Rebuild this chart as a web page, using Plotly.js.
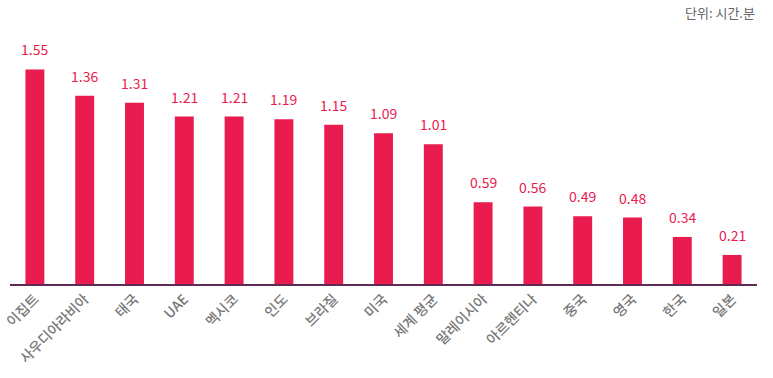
<!DOCTYPE html>
<html>
<head>
<meta charset="utf-8">
<script src="https://cdn.plot.ly/plotly-3.0.1.min.js"></script>
<style>html,body{margin:0;padding:0;background:#fff;}#chart{width:773px;height:378px;}</style>
</head>
<body>
<div id="chart"></div>
<script>
const categories = ["이집트","사우디아라비아","태국","UAE","멕시코","인도","브라질","미국","세계 평균","말레이시아","아르헨티나","중국","영국","한국","일본"];
const values = [1.55,1.36,1.31,1.21,1.21,1.19,1.15,1.09,1.01,0.59,0.56,0.49,0.48,0.34,0.21];
const valueLabels = ["1.55","1.36","1.31","1.21","1.21","1.19","1.15","1.09","1.01","0.59","0.56","0.49","0.48","0.34","0.21"];
const unitLabel = "단위: 시간.분";

const barColor = "#E91B4F";
const font = "Noto Sans CJK KR, Noto Sans, sans-serif";

const annotations = categories.map((c, i) => ({
  x: c, y: values[i], xref: "x", yref: "y",
  text: valueLabels[i], showarrow: false,
  yanchor: "bottom", yshift: 8,
  font: {family: font, size: 14, color: barColor}
}));
annotations.push({
  xref: "paper", yref: "paper", x: 1, y: 1, yshift: 28, xanchor: "right", yanchor: "middle",
  text: unitLabel, showarrow: false,
  font: {family: font, size: 13, color: "#666"}
});

Plotly.newPlot("chart", [{
  type: "bar", x: categories, y: values,
  marker: {color: barColor}, hoverinfo: "none"
}], {
  width: 773, height: 378,
  margin: {l: 10, r: 16, t: 40, b: 94},
  paper_bgcolor: "#fff", plot_bgcolor: "#fff",
  bargap: 0.62,
  showlegend: false,
  xaxis: {
    type: "category", tickangle: -45, showgrid: false, zeroline: false,
    showline: true, linecolor: "#5e2a52", linewidth: 1.5, ticks: "",
    tickfont: {family: font, size: 14, color: "#777", weight: 500}
  },
  yaxis: {range: [0, 1.763], visible: false, showgrid: false, zeroline: false},
  annotations: annotations
}, {displayModeBar: false, staticPlot: true});
</script>
</body>
</html>
